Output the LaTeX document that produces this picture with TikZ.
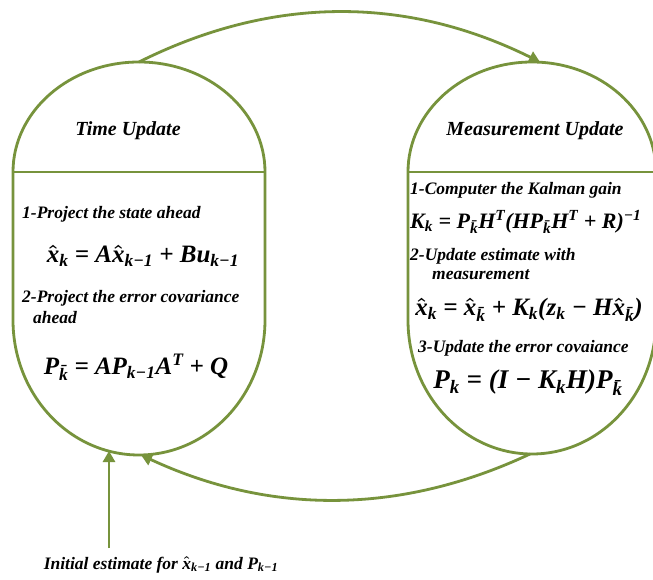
\documentclass[tikz,border=0pt]{standalone}
\usepackage{fontspec}
\setmainfont{Liberation Serif}
\usetikzlibrary{arrows.meta}
\definecolor{kgreen}{RGB}{119,147,60}
\newcommand\sbs[1]{\textsubscript{#1}}
\newcommand\sps[1]{\textsuperscript{#1}}
\newcommand\hx[1]{\mbox{\boldmath$\hat{\mbox{#1}}$}}
\tikzset{
  shapeline/.style={draw=kgreen, line width=2.8pt},
  conn/.style={draw=kgreen, line width=2.8pt, -{Triangle[width=12pt,length=11pt]}},
  ttl/.style={font=\fontsize{20}{22}\selectfont\bfseries\itshape, inner sep=0},
  txt/.style={font=\fontsize{17.5}{19}\selectfont\bfseries\itshape, inner sep=0, anchor=west},
  eq/.style={font=\fontsize{25}{27}\selectfont\bfseries\itshape, inner sep=0},
}
\begin{document}
\begin{tikzpicture}[x=1pt,y=1pt]
\useasboundingbox (0,0) rectangle (653,579);
\clip (0,0) rectangle (653,579);
\fill[white] (0,0) rectangle (653,579);
% left shape
\draw[shapeline] (13,407) arc[start angle=180,end angle=0,x radius=126,y radius=110]
  -- (265,259) arc[start angle=0,end angle=-180,x radius=126,y radius=135] -- cycle;
\draw[shapeline] (13,407) -- (265,407);
% right shape
\draw[shapeline] (408,407) arc[start angle=180,end angle=0,x radius=124,y radius=110]
  -- (656,259) arc[start angle=0,end angle=-180,x radius=124,y radius=134] -- cycle;
\draw[shapeline] (408,407) -- (656,407);
% coordinates
\coordinate (Ltop) at (139,517);
\coordinate (Rtop) at (540,517);
\coordinate (Rbot) at (530,125);
\coordinate (Lbot) at (141,124);
\coordinate (Lbot2) at (109,128);
\coordinate (init) at (109,31);
% connectors
\draw[conn] (Ltop) .. controls (273,584) and (407,583) .. (Rtop);
\draw[conn] (Rbot) .. controls (400,64) and (270,64) .. (Lbot);
\draw[conn] (init) -- (Lbot2);
% left texts
\node[ttl] (tu) at (128,448) {Time Update};
\node[txt] (l1) at (22,365) {1-Project the state ahead};
\node[eq] (le1) at (143,323) {\hx{x}\sbs{k} = A\hx{x}\sbs{k−1} + Bu\sbs{k−1}};
\node[txt] (l2) at (22,281) {2-Project the error covariance};
\node[txt] (l2b) at (33,261) {ahead};
\node[eq] (le2) at (136,212) {P\sbs{\=k} = AP\sbs{k−1}A\sps{T} + Q};
% right texts
\node[ttl] (mu) at (535,448) {Measurement Update};
\node[txt] (r1) at (410,389) {1-Computer the Kalman gain};
\node[eq, anchor=west, font=\fontsize{22}{24}\selectfont\bfseries\itshape] (re1) at (410,357) {K\sbs{k} = P\sbs{\=k}H\sps{T}(HP\sbs{\=k}H\sps{T} + R)\sps{−1}};
\node[txt] (r2) at (410,323) {2-Update estimate with};
\node[txt] (r2b) at (432,304) {measurement};
\node[eq] (re2) at (529,269) {\hx{x}\sbs{k} = \hx{x}\sbs{\=k} + K\sbs{k}(z\sbs{k} − H\hx{x}\sbs{\=k})};
\node[txt] (r3) at (418,231) {3-Update the error covaiance};
\node[eq, font=\fontsize{27}{29}\selectfont\bfseries\itshape] (re3) at (528,196) {P\sbs{k} = (I − K\sbs{k}H)P\sbs{\=k}};
% bottom text
\node[txt, anchor=center] (it) at (161,14) {Initial estimate for \hx{x}\sbs{k−1} and P\sbs{k−1}};
\end{tikzpicture}
\end{document}
